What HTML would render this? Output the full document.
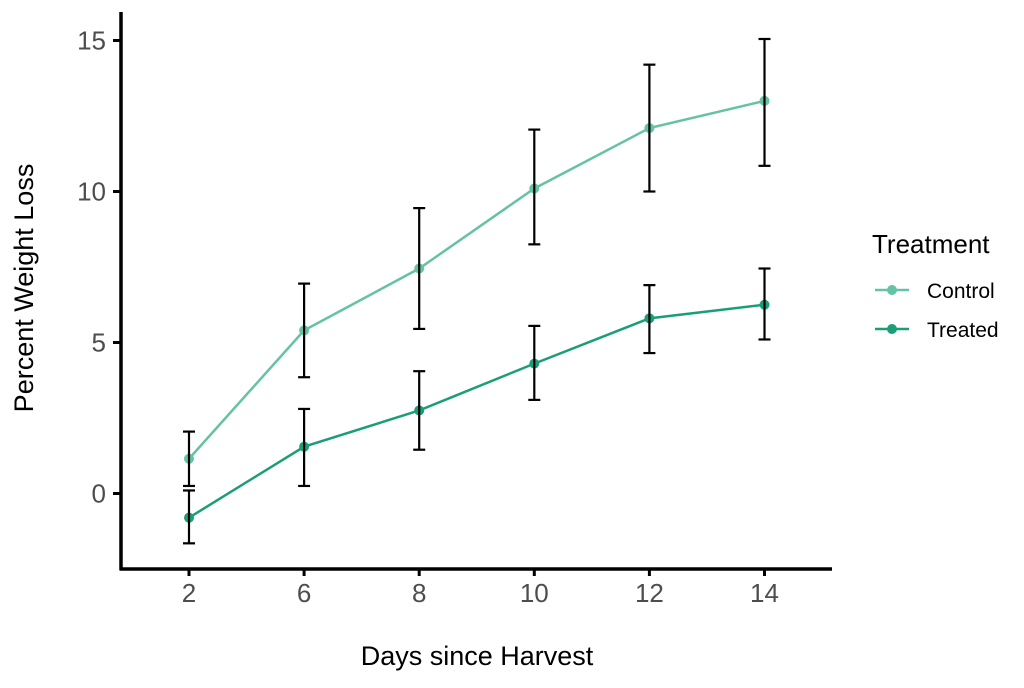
<!DOCTYPE html>
<html><head><meta charset="utf-8"><style>
body{margin:0;background:#fff;}
svg text{font-family:"Liberation Sans",Arial,sans-serif;}
</style></head><body>
<svg width="1024" height="683" viewBox="0 0 1024 683" xmlns="http://www.w3.org/2000/svg">
<g id="plot"></g>
<line x1="121" y1="12" x2="121" y2="570" stroke="#000" stroke-width="3.5"/>
<line x1="119.5" y1="569" x2="832" y2="569" stroke="#000" stroke-width="3.5"/>
<g id="ticks"></g>
<text x="477" y="665" font-size="27" text-anchor="middle" fill="#000">Days since Harvest</text>
<text transform="translate(33,288) rotate(-90)" font-size="27" text-anchor="middle" fill="#000">Percent Weight Loss</text>
<g>
<text x="872" y="253" font-size="26" fill="#000">Treatment</text>
<g>
<line x1="875" y1="290" x2="909" y2="290" stroke="#66c2a5" stroke-width="2.5"/>
<circle cx="892" cy="290" r="5" fill="#66c2a5"/>
<text x="927" y="298" font-size="21" fill="#000">Control</text></g>
<g>
<line x1="875" y1="329" x2="909" y2="329" stroke="#1b9e77" stroke-width="2.5"/>
<circle cx="892" cy="329" r="5" fill="#1b9e77"/>
<text x="927" y="337" font-size="21" fill="#000">Treated</text></g>
</g>
</svg>
<script>
const categories=["2","6","8","10","12","14"];
const controlMean=[1.15,5.4,7.45,10.1,12.1,13.0];
const controlLow=[0.25,3.85,5.45,8.25,10.0,10.85];
const controlHigh=[2.05,6.95,9.45,12.05,14.2,15.05];
const treatedMean=[-0.8,1.55,2.75,4.3,5.8,6.25];
const treatedLow=[-1.65,0.25,1.45,3.1,4.65,5.1];
const treatedHigh=[0.1,2.8,4.05,5.55,6.9,7.45];
const yTicks=[0,5,10,15];
const NS="http://www.w3.org/2000/svg";
function xs(i){return 189+i*115.1;}
function ys(v){return 493.5-v*30.2;}
const plot=document.getElementById('plot'),ticks=document.getElementById('ticks');
function mk(tag,a,parent){const e=document.createElementNS(NS,tag);for(const k in a)e.setAttribute(k,a[k]);parent.appendChild(e);return e;}
function series(mean,lo,hi,color,name){
  const pts=mean.map((v,i)=>xs(i)+','+ys(v)).join(' ');
  const pl=mk('polyline',{points:pts,fill:'none',stroke:color,'stroke-width':2.5},plot);
  
  
  mean.forEach((v,i)=>{
    const c=mk('circle',{cx:xs(i),cy:ys(v),r:5,fill:color},plot);
    
    
  });
  mean.forEach((v,i)=>{
    const g=mk('g',{stroke:'#000','stroke-width':2.2},plot);
    
    
    const x=xs(i);
    mk('line',{x1:x,x2:x,y1:ys(lo[i]),y2:ys(hi[i])},g);
    mk('line',{x1:x-6,x2:x+6,y1:ys(lo[i]),y2:ys(lo[i])},g);
    mk('line',{x1:x-6,x2:x+6,y1:ys(hi[i]),y2:ys(hi[i])},g);
  });
}
series(controlMean,controlLow,controlHigh,'#66c2a5','control');
series(treatedMean,treatedLow,treatedHigh,'#1b9e77','treated');
categories.forEach((c,i)=>{
  const t=mk('line',{x1:xs(i),x2:xs(i),y1:570,y2:576,stroke:'#000','stroke-width':3},ticks);
  
  
  const l=mk('text',{x:xs(i),y:602,'font-size':26,'text-anchor':'middle',fill:'#4d4d4d'},ticks);
  l.textContent=c;
  
  
});
yTicks.forEach(v=>{
  const t=mk('line',{x1:113,x2:120,y1:ys(v),y2:ys(v),stroke:'#000','stroke-width':3},ticks);
  
  
  const l=mk('text',{x:106,y:ys(v)+9,'font-size':26,'text-anchor':'end',fill:'#4d4d4d'},ticks);
  l.textContent=v;
  
  
});
</script>
</body></html>
